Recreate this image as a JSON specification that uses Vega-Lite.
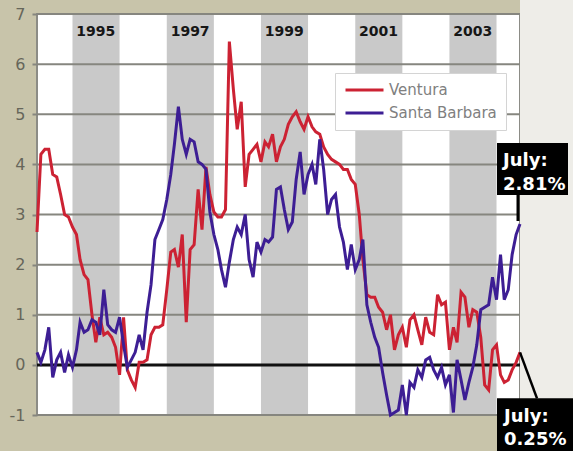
{
  "$schema": "https://vega.github.io/schema/vega-lite/v6.json",
  "width": 483,
  "height": 401,
  "autosize": {"type": "none"},
  "padding": {"left": 37, "top": 14, "right": 53, "bottom": 36},
  "background": "#c8c4aa",
  "config": {
    "font": "DejaVu Sans",
    "view": {"fill": "white", "stroke": "#8c8c86", "strokeWidth": 2},
    "rule": {"stroke": "#86867f", "strokeWidth": 2}
  },
  "datasets": {
    "rates": [
      {"date": "1994-04-01", "Ventura": 2.65, "Santa Barbara": 0.25},
      {"date": "1994-05-01", "Ventura": 4.2, "Santa Barbara": 0.05},
      {"date": "1994-06-01", "Ventura": 4.3, "Santa Barbara": 0.3},
      {"date": "1994-07-01", "Ventura": 4.3, "Santa Barbara": 0.75},
      {"date": "1994-08-01", "Ventura": 3.8, "Santa Barbara": -0.25},
      {"date": "1994-09-01", "Ventura": 3.75, "Santa Barbara": 0.1},
      {"date": "1994-10-01", "Ventura": 3.4, "Santa Barbara": 0.25},
      {"date": "1994-11-01", "Ventura": 3.0, "Santa Barbara": -0.15},
      {"date": "1994-12-01", "Ventura": 2.95, "Santa Barbara": 0.2},
      {"date": "1995-01-01", "Ventura": 2.75, "Santa Barbara": -0.05},
      {"date": "1995-02-01", "Ventura": 2.6, "Santa Barbara": 0.3},
      {"date": "1995-03-01", "Ventura": 2.1, "Santa Barbara": 0.85},
      {"date": "1995-04-01", "Ventura": 1.8, "Santa Barbara": 0.65},
      {"date": "1995-05-01", "Ventura": 1.7, "Santa Barbara": 0.7},
      {"date": "1995-06-01", "Ventura": 1.0, "Santa Barbara": 0.9},
      {"date": "1995-07-01", "Ventura": 0.45, "Santa Barbara": 0.85},
      {"date": "1995-08-01", "Ventura": 0.95, "Santa Barbara": 0.6},
      {"date": "1995-09-01", "Ventura": 0.6, "Santa Barbara": 1.5},
      {"date": "1995-10-01", "Ventura": 0.65, "Santa Barbara": 0.8},
      {"date": "1995-11-01", "Ventura": 0.55, "Santa Barbara": 0.7},
      {"date": "1995-12-01", "Ventura": 0.35, "Santa Barbara": 0.65},
      {"date": "1996-01-01", "Ventura": -0.2, "Santa Barbara": 0.95},
      {"date": "1996-02-01", "Ventura": 0.95, "Santa Barbara": 0.4},
      {"date": "1996-03-01", "Ventura": -0.1, "Santa Barbara": -0.05},
      {"date": "1996-04-01", "Ventura": -0.3, "Santa Barbara": 0.1},
      {"date": "1996-05-01", "Ventura": -0.45, "Santa Barbara": 0.25},
      {"date": "1996-06-01", "Ventura": 0.05, "Santa Barbara": 0.6},
      {"date": "1996-07-01", "Ventura": 0.05, "Santa Barbara": 0.3},
      {"date": "1996-08-01", "Ventura": 0.1, "Santa Barbara": 1.05},
      {"date": "1996-09-01", "Ventura": 0.6, "Santa Barbara": 1.6},
      {"date": "1996-10-01", "Ventura": 0.75, "Santa Barbara": 2.5},
      {"date": "1996-11-01", "Ventura": 0.75, "Santa Barbara": 2.7},
      {"date": "1996-12-01", "Ventura": 0.8, "Santa Barbara": 2.9},
      {"date": "1997-01-01", "Ventura": 1.5, "Santa Barbara": 3.3},
      {"date": "1997-02-01", "Ventura": 2.25, "Santa Barbara": 3.8},
      {"date": "1997-03-01", "Ventura": 2.3, "Santa Barbara": 4.4},
      {"date": "1997-04-01", "Ventura": 1.95, "Santa Barbara": 5.15},
      {"date": "1997-05-01", "Ventura": 2.6, "Santa Barbara": 4.5},
      {"date": "1997-06-01", "Ventura": 0.85, "Santa Barbara": 4.2},
      {"date": "1997-07-01", "Ventura": 2.3, "Santa Barbara": 4.5},
      {"date": "1997-08-01", "Ventura": 2.4, "Santa Barbara": 4.45},
      {"date": "1997-09-01", "Ventura": 3.5, "Santa Barbara": 4.05},
      {"date": "1997-10-01", "Ventura": 2.7, "Santa Barbara": 4.0},
      {"date": "1997-11-01", "Ventura": 3.95, "Santa Barbara": 3.9},
      {"date": "1997-12-01", "Ventura": 3.4, "Santa Barbara": 3.05},
      {"date": "1998-01-01", "Ventura": 3.05, "Santa Barbara": 2.6},
      {"date": "1998-02-01", "Ventura": 2.95, "Santa Barbara": 2.3},
      {"date": "1998-03-01", "Ventura": 2.95, "Santa Barbara": 1.9},
      {"date": "1998-04-01", "Ventura": 3.1, "Santa Barbara": 1.55},
      {"date": "1998-05-01", "Ventura": 6.45, "Santa Barbara": 2.05},
      {"date": "1998-06-01", "Ventura": 5.5, "Santa Barbara": 2.5},
      {"date": "1998-07-01", "Ventura": 4.7, "Santa Barbara": 2.75},
      {"date": "1998-08-01", "Ventura": 5.25, "Santa Barbara": 2.6},
      {"date": "1998-09-01", "Ventura": 3.55, "Santa Barbara": 3.0},
      {"date": "1998-10-01", "Ventura": 4.2, "Santa Barbara": 2.1},
      {"date": "1998-11-01", "Ventura": 4.3, "Santa Barbara": 1.75},
      {"date": "1998-12-01", "Ventura": 4.4, "Santa Barbara": 2.45},
      {"date": "1999-01-01", "Ventura": 4.05, "Santa Barbara": 2.25},
      {"date": "1999-02-01", "Ventura": 4.45, "Santa Barbara": 2.5},
      {"date": "1999-03-01", "Ventura": 4.35, "Santa Barbara": 2.45},
      {"date": "1999-04-01", "Ventura": 4.6, "Santa Barbara": 2.55},
      {"date": "1999-05-01", "Ventura": 4.05, "Santa Barbara": 3.5},
      {"date": "1999-06-01", "Ventura": 4.35, "Santa Barbara": 3.55},
      {"date": "1999-07-01", "Ventura": 4.5, "Santa Barbara": 3.1},
      {"date": "1999-08-01", "Ventura": 4.8, "Santa Barbara": 2.7},
      {"date": "1999-09-01", "Ventura": 4.95, "Santa Barbara": 2.85},
      {"date": "1999-10-01", "Ventura": 5.05, "Santa Barbara": 3.7},
      {"date": "1999-11-01", "Ventura": 4.85, "Santa Barbara": 4.25},
      {"date": "1999-12-01", "Ventura": 4.7, "Santa Barbara": 3.4},
      {"date": "2000-01-01", "Ventura": 4.95, "Santa Barbara": 3.8},
      {"date": "2000-02-01", "Ventura": 4.75, "Santa Barbara": 4.0},
      {"date": "2000-03-01", "Ventura": 4.65, "Santa Barbara": 3.6},
      {"date": "2000-04-01", "Ventura": 4.6, "Santa Barbara": 4.5},
      {"date": "2000-05-01", "Ventura": 4.35, "Santa Barbara": 3.9},
      {"date": "2000-06-01", "Ventura": 4.2, "Santa Barbara": 3.0},
      {"date": "2000-07-01", "Ventura": 4.1, "Santa Barbara": 3.3},
      {"date": "2000-08-01", "Ventura": 4.05, "Santa Barbara": 3.4},
      {"date": "2000-09-01", "Ventura": 4.0, "Santa Barbara": 2.75},
      {"date": "2000-10-01", "Ventura": 3.9, "Santa Barbara": 2.45},
      {"date": "2000-11-01", "Ventura": 3.9, "Santa Barbara": 1.9},
      {"date": "2000-12-01", "Ventura": 3.7, "Santa Barbara": 2.4},
      {"date": "2001-01-01", "Ventura": 3.6, "Santa Barbara": 1.9},
      {"date": "2001-02-01", "Ventura": 3.0, "Santa Barbara": 2.1},
      {"date": "2001-03-01", "Ventura": 2.1, "Santa Barbara": 2.5},
      {"date": "2001-04-01", "Ventura": 1.4, "Santa Barbara": 1.2},
      {"date": "2001-05-01", "Ventura": 1.35, "Santa Barbara": 0.85},
      {"date": "2001-06-01", "Ventura": 1.35, "Santa Barbara": 0.55},
      {"date": "2001-07-01", "Ventura": 1.15, "Santa Barbara": 0.35},
      {"date": "2001-08-01", "Ventura": 1.05, "Santa Barbara": -0.15},
      {"date": "2001-09-01", "Ventura": 0.7, "Santa Barbara": -0.6},
      {"date": "2001-10-01", "Ventura": 1.0, "Santa Barbara": -1.0},
      {"date": "2001-11-01", "Ventura": 0.3, "Santa Barbara": -0.95},
      {"date": "2001-12-01", "Ventura": 0.6, "Santa Barbara": -0.9},
      {"date": "2002-01-01", "Ventura": 0.75, "Santa Barbara": -0.4},
      {"date": "2002-02-01", "Ventura": 0.35, "Santa Barbara": -1.0},
      {"date": "2002-03-01", "Ventura": 0.9, "Santa Barbara": -0.35},
      {"date": "2002-04-01", "Ventura": 1.0, "Santa Barbara": -0.45},
      {"date": "2002-05-01", "Ventura": 0.7, "Santa Barbara": -0.1},
      {"date": "2002-06-01", "Ventura": 0.4, "Santa Barbara": -0.25},
      {"date": "2002-07-01", "Ventura": 0.95, "Santa Barbara": 0.1},
      {"date": "2002-08-01", "Ventura": 0.65, "Santa Barbara": 0.15},
      {"date": "2002-09-01", "Ventura": 0.6, "Santa Barbara": -0.1},
      {"date": "2002-10-01", "Ventura": 1.4, "Santa Barbara": -0.25},
      {"date": "2002-11-01", "Ventura": 1.2, "Santa Barbara": -0.05},
      {"date": "2002-12-01", "Ventura": 1.25, "Santa Barbara": -0.4},
      {"date": "2003-01-01", "Ventura": 0.3, "Santa Barbara": -0.2},
      {"date": "2003-02-01", "Ventura": 0.75, "Santa Barbara": -0.95},
      {"date": "2003-03-01", "Ventura": 0.45, "Santa Barbara": 0.1},
      {"date": "2003-04-01", "Ventura": 1.45, "Santa Barbara": -0.3},
      {"date": "2003-05-01", "Ventura": 1.35, "Santa Barbara": -0.7},
      {"date": "2003-06-01", "Ventura": 0.75, "Santa Barbara": -0.35},
      {"date": "2003-07-01", "Ventura": 1.1, "Santa Barbara": -0.05},
      {"date": "2003-08-01", "Ventura": 1.05, "Santa Barbara": 0.4},
      {"date": "2003-09-01", "Ventura": 0.55, "Santa Barbara": 1.1},
      {"date": "2003-10-01", "Ventura": -0.4, "Santa Barbara": 1.15},
      {"date": "2003-11-01", "Ventura": -0.5, "Santa Barbara": 1.2},
      {"date": "2003-12-01", "Ventura": 0.3, "Santa Barbara": 1.75},
      {"date": "2004-01-01", "Ventura": 0.4, "Santa Barbara": 1.3},
      {"date": "2004-02-01", "Ventura": -0.2, "Santa Barbara": 2.2},
      {"date": "2004-03-01", "Ventura": -0.35, "Santa Barbara": 1.3},
      {"date": "2004-04-01", "Ventura": -0.3, "Santa Barbara": 1.5},
      {"date": "2004-05-01", "Ventura": -0.1, "Santa Barbara": 2.2},
      {"date": "2004-06-01", "Ventura": 0.05, "Santa Barbara": 2.6},
      {"date": "2004-07-01", "Ventura": 0.25, "Santa Barbara": 2.81}
    ],
    "years": [
      {"label": "1995", "start": "1995-01-01", "end": "1996-01-01", "mid": "1995-07-01"},
      {"label": "1997", "start": "1997-01-01", "end": "1998-01-01", "mid": "1997-07-01"},
      {"label": "1999", "start": "1999-01-01", "end": "2000-01-01", "mid": "1999-07-01"},
      {"label": "2001", "start": "2001-01-01", "end": "2002-01-01", "mid": "2001-07-01"},
      {"label": "2003", "start": "2003-01-01", "end": "2004-01-01", "mid": "2003-07-01"}
    ],
    "latest": [
      {"date": "2004-07-01", "rate": 2.81, "label": "July:\n2.81%", "side": "above"},
      {"date": "2004-07-01", "rate": 0.25, "label": "July:\n0.25%", "side": "below"}
    ]
  },
  "layer": [
    {
      "description": "light margin to the right of the plot",
      "data": {"name": "latest"},
      "transform": [{"filter": "datum.side === 'above'"}],
      "mark": {"type": "rect", "color": "#eeede8", "clip": false},
      "encoding": {
        "x": {"field": "date", "type": "temporal", "axis": null,
              "scale": {"domain": [{"year": 1994, "month": 4, "date": 1, "utc": true}, {"year": 2004, "month": 7, "date": 1, "utc": true}], "nice": false}},
        "x2": {"datum": {"year": 2006, "month": 1, "date": 1, "utc": true}},
        "y": {"datum": 8.5, "type": "quantitative", "title": null,
              "scale": {"domain": [-1, 7], "nice": false, "zero": false}},
        "y2": {"datum": -3}
      }
    },
    {
      "data": {"name": "years"},
      "mark": {"type": "rect", "color": "#c9c9c9"},
      "encoding": {
        "x": {"field": "start", "type": "temporal", "axis": null},
        "x2": {"field": "end"}
      }
    },
    {
      "description": "horizontal rules at each whole percent",
      "data": {"name": "latest"},
      "transform": [{"filter": "datum.side === 'above'"}],
      "layer": [
        {"mark": "rule", "encoding": {"y": {"datum": -1, "type": "quantitative"}}},
        {"mark": "rule", "encoding": {"y": {"datum": 1, "type": "quantitative"}}},
        {"mark": "rule", "encoding": {"y": {"datum": 2, "type": "quantitative"}}},
        {"mark": "rule", "encoding": {"y": {"datum": 3, "type": "quantitative"}}},
        {"mark": "rule", "encoding": {"y": {"datum": 4, "type": "quantitative"}}},
        {"mark": "rule", "encoding": {"y": {"datum": 5, "type": "quantitative"}}},
        {"mark": "rule", "encoding": {"y": {"datum": 6, "type": "quantitative"}}},
        {"mark": "rule", "encoding": {"y": {"datum": 7, "type": "quantitative"}}},
        {"mark": {"type": "rule", "stroke": "#111111", "strokeWidth": 3},
         "encoding": {"y": {"datum": 0, "type": "quantitative"}}}
      ]
    },
    {
      "data": {"name": "rates"},
      "transform": [{"fold": ["Ventura", "Santa Barbara"], "as": ["series", "rate"]}],
      "mark": {"type": "line", "strokeWidth": 3},
      "encoding": {
        "x": {"field": "date", "type": "temporal", "axis": null},
        "y": {"field": "rate", "type": "quantitative", "title": null,
              "axis": {"values": [-1, 0, 1, 2, 3, 4, 5, 6, 7], "labelExpr": "toString(datum.value)",
                       "domain": false, "grid": false, "ticks": true, "tickSize": 5, "tickWidth": 2,
                       "tickColor": "#86867f", "labelPadding": 7, "labelFontSize": 16,
                       "labelColor": "#66665a", "labelFont": "DejaVu Sans"}},
        "color": {
          "field": "series", "type": "nominal",
          "scale": {"domain": ["Ventura", "Santa Barbara"], "range": ["#cc2233", "#3d1e94"]},
          "legend": {
            "title": null, "orient": "none", "legendX": 298, "legendY": 59,
            "symbolType": "stroke", "symbolStrokeWidth": 3, "symbolSize": 1444,
            "labelFontSize": 15, "labelColor": "#808080", "labelFont": "DejaVu Sans",
            "labelOffset": 4, "fillColor": "white", "strokeColor": "#d4d4d4",
            "padding": 9, "rowPadding": 7, "clipHeight": 16
          }
        }
      }
    },
    {
      "data": {"name": "latest"},
      "transform": [{"filter": "datum.side === 'above'"}],
      "layer": [
        {
          "mark": {"type": "rule", "stroke": "black", "strokeWidth": 3, "xOffset": -2, "yOffset": -3, "y2Offset": -30, "clip": false},
          "encoding": {
            "x": {"field": "date", "type": "temporal", "axis": null},
            "y": {"field": "rate", "type": "quantitative", "title": null},
            "y2": {"field": "rate"}
          }
        },
        {
          "mark": {"type": "rect", "color": "black", "xOffset": -23, "x2Offset": 48, "yOffset": -81, "y2Offset": -29, "clip": false},
          "encoding": {
            "x": {"field": "date", "type": "temporal", "axis": null},
            "x2": {"field": "date"},
            "y": {"field": "rate", "type": "quantitative", "title": null},
            "y2": {"field": "rate"}
          }
        },
        {
          "mark": {"type": "text", "align": "left", "baseline": "alphabetic", "dx": -17, "dy": -58,
                   "lineBreak": "\n", "lineHeight": 24, "fontSize": 18, "fontWeight": "bold",
                   "color": "white", "font": "DejaVu Sans", "clip": false},
          "encoding": {
            "x": {"field": "date", "type": "temporal", "axis": null},
            "y": {"field": "rate", "type": "quantitative", "title": null},
            "text": {"field": "label"}
          }
        }
      ]
    },
    {
      "data": {"name": "latest"},
      "transform": [{"filter": "datum.side === 'below'"}],
      "layer": [
        {
          "mark": {"type": "rule", "stroke": "black", "strokeWidth": 2.5, "x2Offset": 17, "y2Offset": 46, "clip": false},
          "encoding": {
            "x": {"field": "date", "type": "temporal", "axis": null},
            "x2": {"field": "date"},
            "y": {"field": "rate", "type": "quantitative", "title": null},
            "y2": {"field": "rate"}
          }
        },
        {
          "mark": {"type": "rect", "color": "black", "xOffset": -23, "x2Offset": 56, "yOffset": 46, "y2Offset": 100, "clip": false},
          "encoding": {
            "x": {"field": "date", "type": "temporal", "axis": null},
            "x2": {"field": "date"},
            "y": {"field": "rate", "type": "quantitative", "title": null},
            "y2": {"field": "rate"}
          }
        },
        {
          "mark": {"type": "text", "align": "left", "baseline": "alphabetic", "dx": -16, "dy": 70,
                   "lineBreak": "\n", "lineHeight": 23, "fontSize": 18, "fontWeight": "bold",
                   "color": "white", "font": "DejaVu Sans", "clip": false},
          "encoding": {
            "x": {"field": "date", "type": "temporal", "axis": null},
            "y": {"field": "rate", "type": "quantitative", "title": null},
            "text": {"field": "label"}
          }
        }
      ]
    },
    {
      "data": {"name": "years"},
      "mark": {"type": "text", "fontSize": 14, "fontWeight": "bold", "color": "#161616", "font": "DejaVu Sans", "baseline": "middle"},
      "encoding": {
        "x": {"field": "mid", "type": "temporal", "axis": null},
        "y": {"datum": 6.65, "type": "quantitative"},
        "text": {"field": "label"}
      }
    }
  ]
}
